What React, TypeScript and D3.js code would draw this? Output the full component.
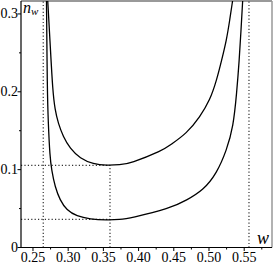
import * as d3 from "d3";

// curve samples: w (x) and n_w (y)
const upperW = [0.2709, 0.2749, 0.278, 0.2813, 0.2859, 0.293, 0.3026, 0.3168, 0.3357, 0.3547, 0.3736, 0.3878, 0.4347, 0.4446, 0.4683, 0.4872, 0.5014, 0.5109, 0.518, 0.5249, 0.5295, 0.5337];
const upperN = [0.318, 0.2536, 0.2022, 0.1765, 0.1594, 0.1422, 0.1272, 0.1144, 0.1071, 0.1054, 0.1062, 0.1078, 0.125, 0.1315, 0.1465, 0.1679, 0.1893, 0.215, 0.2407, 0.2665, 0.2922, 0.318];
const lowerW = [0.2692, 0.2703, 0.2717, 0.2741, 0.2765, 0.2813, 0.2884, 0.2979, 0.3121, 0.331, 0.3547, 0.3736, 0.3878, 0.4446, 0.4683, 0.4919, 0.5109, 0.5251, 0.5345, 0.5393, 0.543, 0.5455, 0.5479];
const lowerN = [0.318, 0.2022, 0.1598, 0.1165, 0.0994, 0.0779, 0.0608, 0.0479, 0.0402, 0.0364, 0.0351, 0.0358, 0.0377, 0.0501, 0.0608, 0.0737, 0.0951, 0.1251, 0.155, 0.1979, 0.2407, 0.2793, 0.318];

// dotted guides
const asymptotes = [0.2646, 0.5568];
const minW = 0.3594;
const minN = [0.1055, 0.036];

const xTicks = [0.25, 0.3, 0.35, 0.4, 0.45, 0.5, 0.55];
const yTicks = [0, 0.1, 0.2, 0.3];

const W = 273;
const H = 264;
const PLOT = { left: 21, right: 272, top: 1, bottom: 247.5 };
const FONT = "'Liberation Serif', 'Times New Roman', serif";

export default function App() {
  const x = d3.scaleLinear().domain([0.233, 0.5895]).range([PLOT.left, PLOT.right]);
  const y = d3.scaleLinear().domain([0, 0.3166]).range([PLOT.bottom, PLOT.top]);

  const line = d3
    .line<[number, number]>()
    .x((d) => x(d[0]))
    .y((d) => y(d[1]))
    .curve(d3.curveBasis);

  const upper = upperW.map((w, i) => [w, upperN[i]] as [number, number]);
  const lower = lowerW.map((w, i) => [w, lowerN[i]] as [number, number]);

  const xMinor = d3.range(0.225, 0.59, 0.05).filter((v) => x(v) > PLOT.left);
  const yMinor = [0.05, 0.15, 0.25];
  const dots = { stroke: "#333", strokeWidth: 1.2, strokeDasharray: "1.2 2.2" };

  return (
    <svg
      width={W}
      height={H}
      style={{ position: "absolute", left: 0, top: 0, background: "#fff" }}
      fontFamily={FONT}
    >
      <defs>
        <clipPath id="plot">
          <rect x={PLOT.left} y={PLOT.top} width={PLOT.right - PLOT.left} height={PLOT.bottom - PLOT.top} />
        </clipPath>
      </defs>

      {/* frame */}
      <line x1={PLOT.left} x2={PLOT.right} y1={PLOT.top} y2={PLOT.top} stroke="#999" strokeWidth={2} />
      <line x1={PLOT.right} x2={PLOT.right} y1={PLOT.top} y2={PLOT.bottom} stroke="#999" strokeWidth={1.5} />

      {/* guides */}
      {asymptotes.map((a) => (
        <line key={a} x1={x(a)} x2={x(a)} y1={PLOT.bottom} y2={PLOT.top} {...dots} />
      ))}
      <line x1={x(minW)} x2={x(minW)} y1={PLOT.bottom} y2={y(minN[0])} {...dots} />
      {minN.map((n) => (
        <line key={n} x1={PLOT.left} x2={x(minW)} y1={y(n)} y2={y(n)} {...dots} />
      ))}

      <g clipPath="url(#plot)">
        <path d={line(upper) ?? ""} fill="none" stroke="#000" strokeWidth={1.3} />
        <path d={line(lower) ?? ""} fill="none" stroke="#000" strokeWidth={1.3} />
      </g>

      {/* axes */}
      <line x1={PLOT.left} x2={PLOT.left} y1={PLOT.top} y2={PLOT.bottom} stroke="#000" strokeWidth={1.2} />
      <line x1={PLOT.left} x2={PLOT.right} y1={PLOT.bottom} y2={PLOT.bottom} stroke="#000" strokeWidth={1.2} />

      {xTicks.map((t) => (
        <g key={t}>
          <line x1={x(t)} x2={x(t)} y1={PLOT.bottom} y2={PLOT.bottom + 3.5} stroke="#000" />
          <text x={x(t)} y={262} textAnchor="middle" fontSize={14}>
            {t.toFixed(2)}
          </text>
        </g>
      ))}
      {xMinor.map((t) => (
        <line key={t} x1={x(t)} x2={x(t)} y1={PLOT.bottom} y2={PLOT.bottom + 2} stroke="#000" />
      ))}
      {yTicks.map((t) => (
        <g key={t}>
          <line x1={PLOT.left - 3.5} x2={PLOT.left} y1={y(t)} y2={y(t)} stroke="#000" />
          <text x={PLOT.left - 3} y={y(t) + 4.5} textAnchor="end" fontSize={14}>
            {t === 0 ? "0" : String(t)}
          </text>
        </g>
      ))}
      {yMinor.map((t) => (
        <line key={t} x1={PLOT.left - 2} x2={PLOT.left} y1={y(t)} y2={y(t)} stroke="#000" />
      ))}

      {/* axis names */}
      <text x={23} y={13} fontSize={16} fontStyle="italic">
        n
        <tspan fontSize={11} dy={2}>
          w
        </tspan>
      </text>
      <text x={257} y={244} fontSize={18} fontStyle="italic">
        w
      </text>
    </svg>
  );
}
